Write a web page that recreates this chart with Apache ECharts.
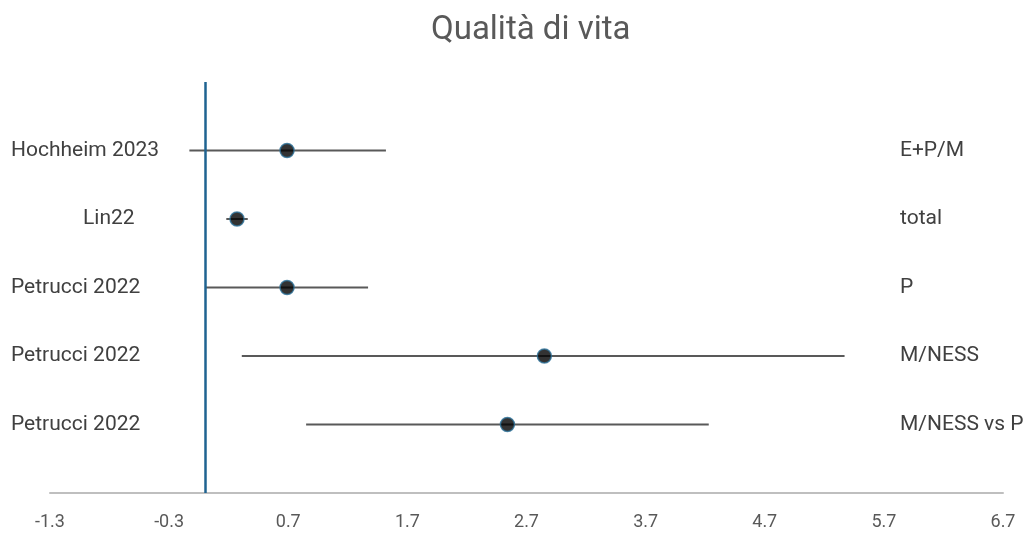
<!DOCTYPE html>
<html>
<head>
<meta charset="utf-8">
<script src="https://cdn.jsdelivr.net/npm/echarts@6/dist/echarts.min.js"></script>
<style>
  html, body { margin: 0; padding: 0; background: #fff; }
  #chart { width: 1027px; height: 533px; }
</style>
</head>
<body>
<div id="chart"></div>
<script>
// Studies, top to bottom
const studies = ['Hochheim 2023', 'Lin22', 'Petrucci 2022', 'Petrucci 2022', 'Petrucci 2022'];
const subgroups = ['E+P/M', 'total', 'P', 'M/NESS', 'M/NESS vs P'];
// Effect estimates with lower / upper confidence limits
const estimates = [0.69, 0.27, 0.69, 2.85, 2.54];
const lower = [-0.13, 0.18, 0.01, 0.31, 0.85];
const upper = [1.52, 0.36, 1.37, 5.37, 4.23];
// Row positions on the vertical scale (top row highest)
const rows = [5, 4, 3, 2, 1];
// Horizontal axis tick values
const xTicks = [-1.3, -0.3, 0.7, 1.7, 2.7, 3.7, 4.7, 5.7, 6.7];

const FONT = 'Roboto';
const chart = echarts.init(document.getElementById('chart'));

const ciData = rows.map((r, i) => [lower[i], upper[i], r]);
const ptData = rows.map((r, i) => [estimates[i], r]);

chart.setOption({
  animation: false,
  title: {
    text: 'Qualità di vita',
    left: 426,
    top: 9,
    textStyle: { fontFamily: FONT, fontSize: 33, fontWeight: 'normal', color: '#595959' }
  },
  grid: { left: 50, right: 24, top: 82, bottom: 40 },
  xAxis: {
    type: 'value',
    min: -1.3,
    max: 6.7,
    splitLine: { show: false },
    axisLine: { show: true, lineStyle: { color: '#bfbfbf', width: 2 } },
    axisTick: { show: false },
    axisLabel: {
      customValues: xTicks,
      formatter: v => v.toFixed(1),
      fontFamily: FONT,
      fontSize: 18,
      color: '#595959',
      margin: 20
    }
  },
  yAxis: {
    type: 'value',
    min: 0,
    max: 6,
    show: false
  },
  series: [
    {
      // confidence interval whiskers
      type: 'custom',
      data: ciData,
      encode: { x: [0, 1], y: 2 },
      renderItem: (params, api) => {
        const a = api.coord([api.value(0), api.value(2)]);
        const b = api.coord([api.value(1), api.value(2)]);
        return {
          type: 'line',
          shape: { x1: a[0], y1: a[1], x2: b[0], y2: b[1] },
          style: { stroke: '#595959', lineWidth: 2 }
        };
      },
      z: 2
    },
    {
      // point estimates
      type: 'scatter',
      data: ptData,
      symbol: 'circle',
      symbolSize: 14,
      itemStyle: { color: '#000', borderColor: '#2a6f97', borderWidth: 1.5 },
      z: 4,
      markLine: {
        silent: true,
        symbol: 'none',
        label: { show: false },
        lineStyle: { color: '#1f6391', width: 2.5, type: 'solid' },
        data: [{ xAxis: 0 }]
      }
    }
  ]
});

// Row labels: study names on the left, subgroups on the right
function drawLabels() {
  const els = [];
  const leftX = [11, 83, 11, 11, 11];
  rows.forEach((r, i) => {
    const y = chart.convertToPixel({ gridIndex: 0 }, [0, r])[1];
    els.push({
      type: 'text',
      x: leftX[i],
      y: y,
      style: { text: studies[i], fontFamily: FONT, fontSize: 21, fill: '#404040', verticalAlign: 'middle' }
    });
    els.push({
      type: 'text',
      x: 900,
      y: y,
      style: { text: subgroups[i], fontFamily: FONT, fontSize: 21, fill: '#404040', verticalAlign: 'middle' }
    });
  });
  chart.setOption({ graphic: els });
}
drawLabels();
</script>
</body>
</html>
